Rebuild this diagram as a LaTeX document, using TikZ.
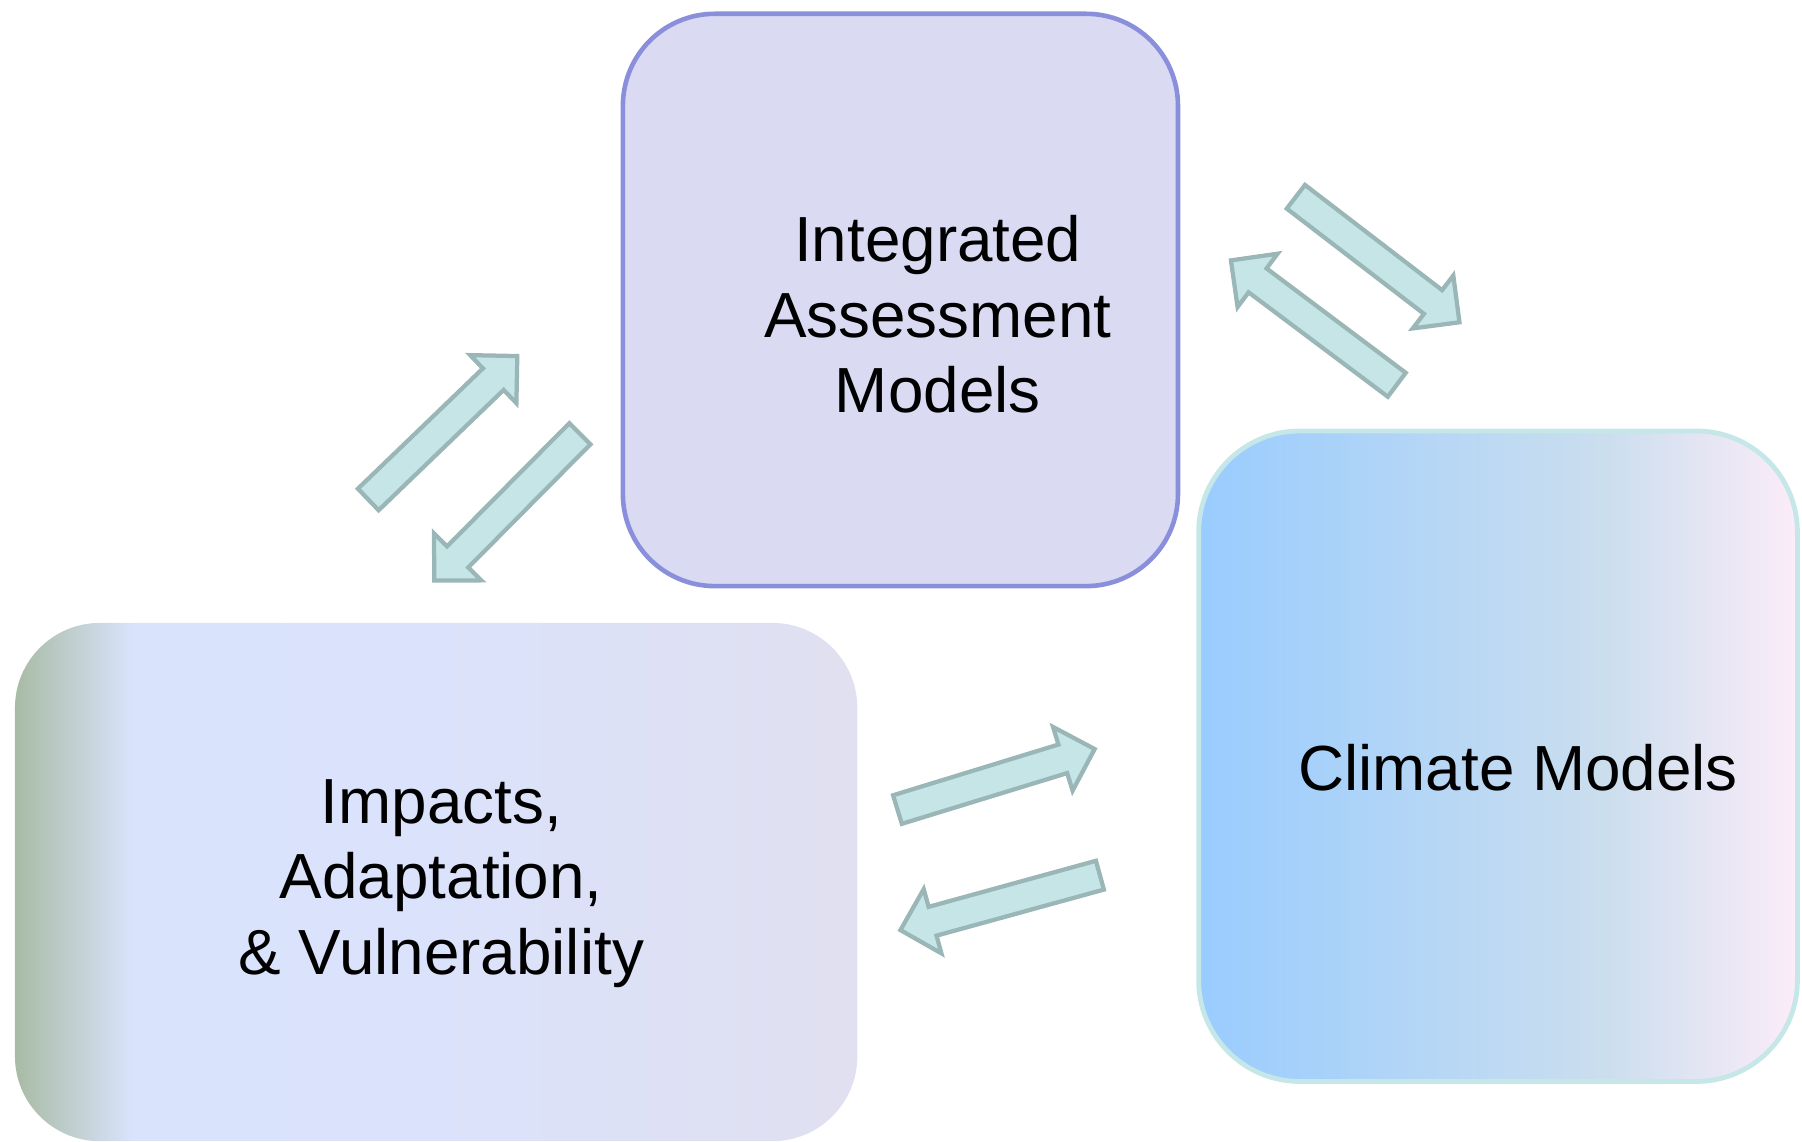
\documentclass[tikz,border=0pt]{standalone}
\usepackage{fontspec}
\setmainfont{Liberation Sans}
\usetikzlibrary{calc}
\definecolor{iamfill}{RGB}{218,218,242}
\definecolor{iamdraw}{RGB}{138,143,219}
\definecolor{cmdraw}{RGB}{197,231,232}
\definecolor{arfill}{RGB}{197,229,230}
\definecolor{ardraw}{RGB}{154,182,183}
\definecolor{iavA}{RGB}{168,187,165}
\definecolor{iavB}{RGB}{218,227,252}
\definecolor{iavC}{RGB}{219,226,251}
\definecolor{iavD}{RGB}{224,224,240}
\definecolor{cmA}{RGB}{153,204,255}
\definecolor{cmB}{RGB}{203,222,238}
\definecolor{cmC}{RGB}{252,236,249}
\pgfdeclarehorizontalshading{iavshade}{100bp}{color(0bp)=(iavA); color(25bp)=(iavA); color(32bp)=(iavB); color(50bp)=(iavC); color(75bp)=(iavD); color(100bp)=(iavD)}
\pgfdeclarehorizontalshading{cmshade}{100bp}{color(0bp)=(cmA); color(25bp)=(cmA); color(59bp)=(cmB); color(75bp)=(cmC); color(100bp)=(cmC)}
\tikzset{
  labeltext/.style={font=\fontsize{55.5}{66}\selectfont, align=center, inner sep=0pt, text=black},
  arrowshape/.style={fill=arfill, draw=ardraw, line width=3.7pt, line join=miter},
}
\newcommand{\blockarrow}[3]{%
  \coordinate (#1-t) at (#2);
  \coordinate (#1-h) at (#3);
  \coordinate (#1-a) at ($(#1-t)!2pt!(#1-h)$);
  \coordinate (#1-b) at ($(#1-h)!2.6pt!(#1-t)$);
  \coordinate (#1-n) at ($(#1-b)!29pt!(#1-a)$);
  \draw[arrowshape] ($(#1-a)!13pt!90:(#1-b)$) -- ($(#1-n)!13pt!90:(#1-b)$) -- ($(#1-n)!29pt!90:(#1-b)$) -- (#1-b) -- ($(#1-n)!29pt!-90:(#1-b)$) -- ($(#1-n)!13pt!-90:(#1-b)$) -- ($(#1-a)!13pt!-90:(#1-b)$) -- cycle;
}
\begin{document}
\begin{tikzpicture}[x=1pt,y=-1pt]
\useasboundingbox (0,0) rectangle (1568,993.7);
% boxes
\node (iam) [rectangle, rounded corners=80pt, minimum width=483pt, minimum height=498pt, fill=iamfill, draw=iamdraw, line width=4pt] at (783.5,261) {};
\node (iav) [rectangle, rounded corners=74pt, minimum width=733pt, minimum height=451pt, shade, shading=iavshade] at (379.5,767.5) {};
\node (cm) [rectangle, rounded corners=88pt, minimum width=521pt, minimum height=566pt, shade, shading=cmshade, draw=cmdraw, line width=4.2pt] at (1303.5,658) {};
% labels
\node (iamlabel) [labeltext] at (816,273.5) {Integrated\\Assessment\\Models};
\node (iavlabel) [labeltext] at (384,768.8) {Impacts,\\Adaptation,\\\& Vulnerability};
\node (cmlabel) [labeltext] at (1321,668) {Climate Models};
% block arrows
\blockarrow{a1}{319,436}{452,308}
\blockarrow{a2}{506,376}{376,507}
\blockarrow{a3}{1126,170}{1272,282}
\blockarrow{a4}{1217,336}{1069,225}
\blockarrow{a5}{779,705}{955,651}
\blockarrow{a6}{959,761}{781,810}
\end{tikzpicture}
\end{document}
